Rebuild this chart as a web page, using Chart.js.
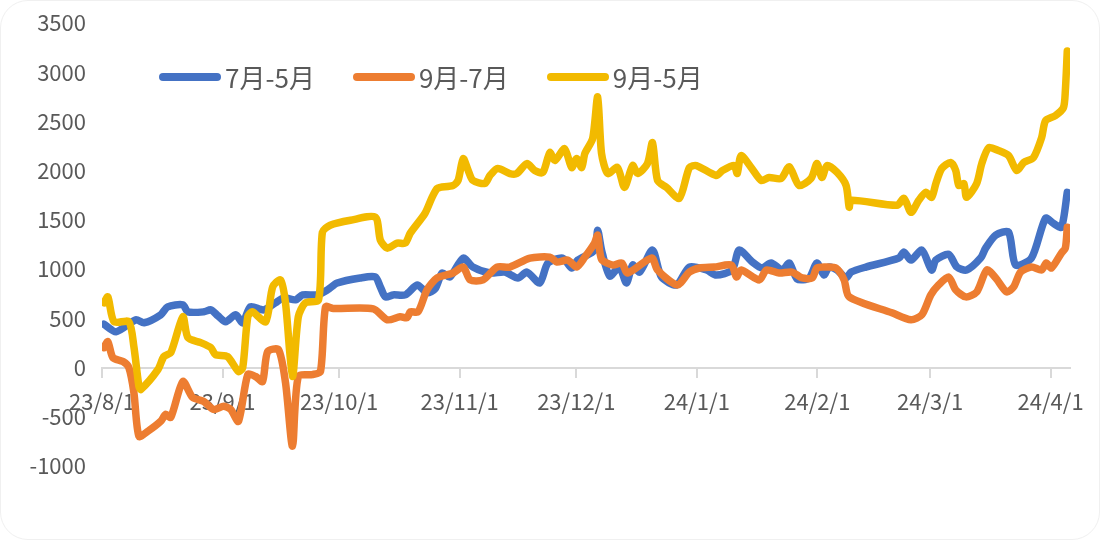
<!DOCTYPE html>
<html>
<head>
<meta charset="utf-8">
<script src="https://cdn.jsdelivr.net/npm/chart.js@4.4.1/dist/chart.umd.min.js"></script>
<style>
    body { margin: 0; background: #fff; }
    #card {
        position: relative;
        width: 1100px;
        height: 540px;
        box-sizing: border-box;
        border: 1px solid #f0f0f0;
        border-radius: 28px;
        overflow: hidden;
        background: #fff;
    }
    #legend {
        position: absolute;
        top: 60px;
        left: 158px;
        display: flex;
        align-items: center;
        font-family: "Noto Sans CJK SC", "Noto Sans", sans-serif;
        font-size: 26px;
        line-height: 32px;
        color: #595959;
    }
    .item { display: flex; align-items: center; margin-right: 38px; }
    .swatch { width: 62px; height: 8px; border-radius: 4px; margin-right: 4px; }
</style>
</head>
<body>
<div id="card">
    <canvas id="chart"></canvas>
    <div id="legend"></div>
</div>
<script>
/* =========================
   DATA (days counted from 23/8/1)
========================= */

const seriesNames = ["7月-5月", "9月-7月", "9月-5月"];
const seriesColors = ["#4472C4", "#ED7D31", "#F2BA00"];

const tickLabels = ["23/8/1", "23/9/1", "23/10/1", "23/11/1", "23/12/1", "24/1/1", "24/2/1", "24/3/1", "24/4/1"];
const tickDays = [0, 31, 61, 92, 122, 153, 184, 213, 244];

const days75 = [0.5, 3.6, 8.7, 10.8, 15.1, 16.9, 20.8, 22.1, 26.2, 28, 29.8, 31.8, 34.4, 36.2, 38.2, 41.6, 44.6, 46.7, 49.8, 51.6,
    55.4, 58, 60.5, 66.4, 70.3, 71.6, 72.9, 74.9, 78, 81.1, 83.6, 85.7, 87.5, 89.5, 92.9, 95.4, 99.8, 103.6, 107, 109.3,
    112.6, 114.7, 118.5, 120.8, 122.4, 126.7, 127.5, 128.5, 130.6, 133.1, 134.9, 136.5, 138.3, 141.6, 143.9, 147.8, 151.1, 155.5, 158, 162.1,
    163.9, 167.3, 169.8, 172.1, 175, 176.8, 178.8, 181.9, 183.9, 185.7, 187, 189.1, 191.4, 192.7, 196.5, 205, 206.3, 208.1, 210.9, 213.4,
    214.5, 217.8, 219.9, 222.4, 226, 227.3, 229.9, 233.2, 235, 239.1, 242.7, 244.7, 246.8, 248.3];
const spread75 = [440, 364, 485, 455, 536, 617, 637, 566, 566, 586, 526, 465, 536, 455, 617, 586, 657, 708, 688, 738,
    738, 789, 859, 910, 920, 819, 718, 738, 738, 839, 760, 800, 960, 920, 1112, 1021, 960, 970, 910, 970,
    859, 1062, 1112, 1011, 1092, 1193, 1395, 1193, 930, 1021, 859, 1041, 970, 1193, 920, 839, 1021, 991, 940, 991,
    1193, 1072, 1011, 1062, 991, 1062, 900, 910, 1062, 940, 1021, 991, 910, 970, 1021, 1112, 1173, 1092, 1193, 991,
    1092, 1150, 1021, 991, 1112, 1213, 1345, 1375, 1041, 1112, 1517, 1466, 1426, 1780];

const days97 = [0.5, 1.5, 2.8, 5.4, 6.9, 8.2, 9.5, 11.8, 15.1, 16.4, 17.7, 20.8, 23.3, 26.2, 28.7, 31.3, 33.1, 35.1, 37.5, 39.5,
    41.3, 42.6, 45.4, 47.2, 49, 50.5, 54.1, 56.2, 57.5, 59.5, 69.8, 73.4, 76.7, 78.5, 79.3, 81.3, 83.6, 86.2, 90.3, 92.9,
    94.7, 98, 101.6, 104.9, 110.1, 115.2, 117, 119.8, 122.1, 124.2, 126.7, 127.5, 128.5, 131.4, 133.7, 135.2, 141.4, 142.9, 148, 151.1,
    153.7, 157.5, 161.9, 163.2, 164.4, 169.1, 170.9, 174.2, 177.5, 180.1, 182.7, 183.9, 186.2, 188.8, 190.9, 192.2, 203.2, 208.1, 210.9, 213.2,
    215.2, 217.8, 219.6, 222.2, 225, 227.6, 229.9, 232.7, 234.5, 236.3, 239.1, 241.7, 242.9, 244.2, 246.8, 247.8, 248.3];
const spread97 = [202, 263, 101, 61, 0, -253, -698, -647, -546, -475, -506, -142, -303, -344, -425, -394, -425, -546, -71, -91,
    -142, 162, 182, -152, -799, -91, -71, -40, 617, 600, 596, 485, 516, 506, 566, 566, 789, 910, 960, 1021,
    890, 890, 1021, 1021, 1112, 1122, 1072, 1092, 1021, 1122, 1264, 1345, 1100, 1041, 1062, 960, 1112, 991, 839, 970,
    1011, 1021, 1041, 920, 991, 890, 991, 960, 970, 910, 910, 1011, 1021, 1011, 890, 718, 556, 485, 536, 738,
    839, 920, 789, 718, 768, 991, 910, 768, 819, 970, 1021, 991, 1062, 1011, 1163, 1213, 1426];

const days95 = [0.5, 1.5, 3.1, 6.9, 8.2, 9.5, 10, 14.4, 15.9, 17.7, 20.8, 22.1, 25.4, 28, 29.2, 32.3, 35.1, 36.2, 37.5, 38.7,
    42.1, 43.9, 45.9, 47.2, 49, 50.5, 52.3, 55.7, 56.7, 58.7, 63.9, 70.3, 71.6, 73.4, 75.9, 78, 79.3, 83.1, 84.9, 86.2,
    87, 90.3, 91.6, 92.9, 94.2, 95.4, 98.5, 99.8, 101.8, 104.9, 106.7, 109.3, 111.3, 113.4, 115.2, 116.5, 119, 120.8, 122.1, 123.4,
    124.2, 126.2, 127.5, 128.5, 130.1, 132.6, 134.4, 136.5, 137.8, 140.3, 141.6, 142.9, 145.2, 148.5, 151.1, 152.9, 158, 159.6, 162.6, 163.4,
    164.4, 167, 169.6, 171.6, 174.7, 176.8, 179.3, 182.4, 183.9, 185.2, 186.5, 189.1, 191.4, 192.2, 192.7, 204.5, 206.3, 208.1, 210.1, 211.9,
    213.4, 214.5, 216, 218.3, 219.6, 220.4, 221.7, 222.4, 225, 226.3, 228.1, 230.6, 233.2, 235.3, 237.1, 239.6, 241.7, 242.7, 245.2, 247.3,
    247.8, 248.3];
const spread95 = [657, 718, 465, 465, 212, -192, -222, -20, 111, 152, 516, 303, 253, 202, 131, 111, -40, 0, 516, 566,
    465, 819, 890, 657, -91, 516, 657, 688, 1375, 1446, 1496, 1527, 1294, 1213, 1264, 1264, 1365, 1567, 1729, 1820,
    1830, 1850, 1901, 2123, 2002, 1901, 1870, 1951, 2022, 1971, 1971, 2072, 2002, 1982, 2184, 2103, 2224, 2032, 2123, 2032,
    2174, 2325, 2750, 2174, 1971, 2032, 1830, 2052, 1971, 2072, 2285, 1901, 1830, 1719, 2032, 2052, 1951, 2002, 2052, 1971,
    2153, 2032, 1901, 1931, 1921, 2040, 1850, 1921, 2072, 1931, 2052, 1982, 1850, 1628, 1699, 1648, 1719, 1577, 1699, 1780,
    1729, 1870, 2022, 2083, 2002, 1850, 1870, 1729, 1870, 2072, 2234, 2204, 2153, 2002, 2083, 2133, 2335, 2507, 2558, 2639,
    2811, 3215];

/* =========================
   LEGEND (html)
========================= */

document.getElementById("legend").innerHTML = seriesNames.map((name, i) => `
    <div class="item">
        <div class="swatch" style="background:${seriesColors[i]}"></div>
        <span>${name}</span>
    </div>
`).join("");

/* =========================
   CHART
========================= */

function toPoints(days, values) {
    return days.map((d, i) => ({ x: d, y: values[i] }));
}

const allDays = [days75, days97, days95];
const allValues = [spread75, spread97, spread95];

const font = { family: "'Noto Sans CJK SC', 'Noto Sans', sans-serif", size: 22 };

new Chart(document.getElementById("chart"), {
    type: "line",
    data: {
        datasets: seriesNames.map((name, i) => ({
            label: name,
            data: toPoints(allDays[i], allValues[i]),
            borderColor: seriesColors[i],
            backgroundColor: seriesColors[i],
            borderWidth: 7.5,
            borderJoinStyle: "round",
            borderCapStyle: "round",
            pointRadius: 0,
            tension: 0.25,
            order: 3 - i
        }))
    },
    options: {
        responsive: true,
        maintainAspectRatio: false,
        animation: false,
        layout: { padding: { left: 0, right: 29, top: 22, bottom: 73 } },
        plugins: {
            legend: { display: false },
            tooltip: { enabled: false }
        },
        scales: {
            x: {
                type: "linear",
                position: { y: 0 },
                min: 0,
                max: 249,
                afterBuildTicks: scale => {
                    scale.ticks = tickDays.map(v => ({ value: v }));
                },
                ticks: {
                    font: font,
                    color: "#595959",
                    padding: 12,
                    maxRotation: 0,
                    autoSkip: false,
                    callback: value => tickLabels[tickDays.indexOf(value)]
                },
                grid: {
                    drawOnChartArea: false,
                    drawTicks: true,
                    tickLength: 9,
                    color: "#d9d9d9",
                    lineWidth: 2
                },
                border: { color: "#d9d9d9", width: 2 }
            },
            y: {
                min: -1000,
                max: 3500,
                afterFit: scale => {
                    scale.width = 101;
                    // tick padding should not push the plot down
                    scale.paddingTop = 0;
                    scale.paddingBottom = 0;
                },
                ticks: {
                    stepSize: 500,
                    font: font,
                    color: "#595959",
                    padding: 16,
                    callback: value => String(value)
                },
                grid: { display: false, drawTicks: false },
                border: { display: false }
            }
        }
    }
});
</script>
</body>
</html>
